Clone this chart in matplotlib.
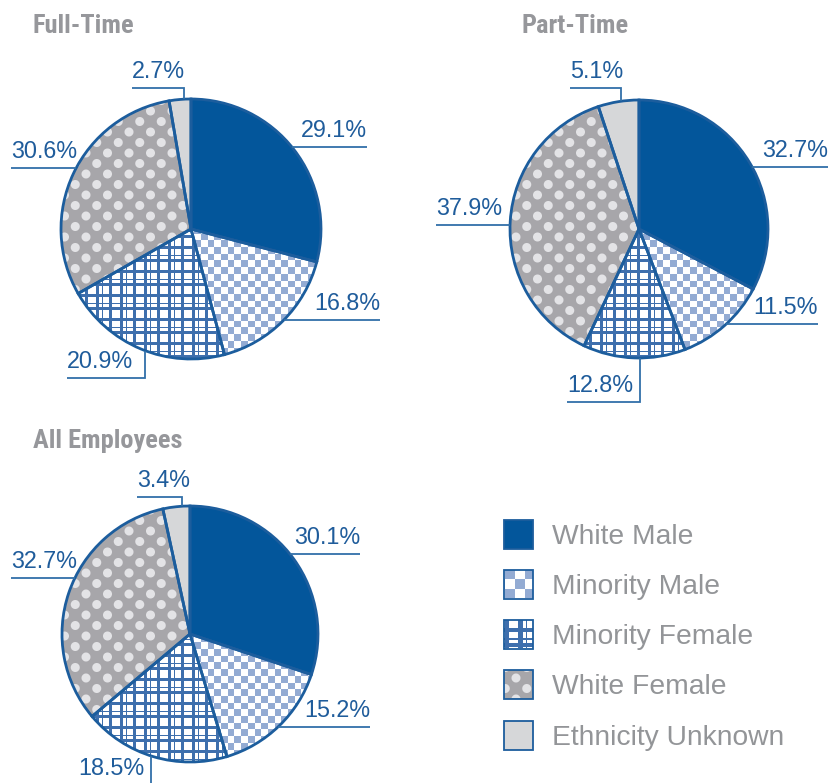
import numpy as np
import matplotlib
matplotlib.use('Agg')
import matplotlib.pyplot as plt
from matplotlib.colors import to_rgb
from matplotlib.patches import Rectangle

W, H = 829, 783

categories = ['White Male', 'Minority Male', 'Minority Female', 'White Female', 'Ethnicity Unknown']
full_time = [29.1, 16.8, 20.9, 30.6, 2.7]
part_time = [32.7, 11.5, 12.8, 37.9, 5.1]
all_employees = [30.1, 15.2, 18.5, 32.7, 3.4]
titles = ['Full-Time', 'Part-Time', 'All Employees']

DARK = '#03569B'
EDGE = '#1C5D9D'
CHECK = '#93ABD3'
PLAID = '#3E6FAD'
GRAYF = '#A7A6AA'
DOT = '#E3E3E6'
UNK = '#D6D7D9'
LABEL = '#1F5C9B'
LINE = '#3270A9'
TITLE = '#96979B'
LEG = '#939598'

kinds = ['solid', 'check', 'plaid', 'dots', 'solid']
base_colors = [DARK, 'white', 'white', GRAYF, UNK]
legend_scale = {'check': 1.45, 'plaid': 1.2, 'dots': 1.0}


def texture(kind, x0, y0, w, h, s=1.0):
    xs = x0 + np.arange(w) + 0.5
    ys = y0 + np.arange(h) + 0.5
    X, Y = np.meshgrid(xs, ys)
    img = np.ones((h, w, 4))
    if kind == 'check':
        c = 6.7 * s
        m = ((np.floor(X / c) + np.floor(Y / c)) % 2).astype(bool)
        img[m, :3] = to_rgb(CHECK)
    elif kind == 'plaid':
        P = 24 * s
        lines = [(0, 3.5), (6, 1.5), (13, 3)]

        def cov(t):
            u = np.mod(t, P)
            mk = np.zeros_like(u, dtype=bool)
            for off, wd in lines:
                mk |= (u >= off * s) & (u < (off + wd) * s)
            return mk
        m = cov(X) | cov(Y + 7 * s)
        img[m, :3] = to_rgb(PLAID)
    elif kind == 'dots':
        dx, dy, rad = 21.5 * s, 10.5 * s, 4.5 * s
        j0 = np.round(Y / dy)
        dmin = np.full(X.shape, 1e9)
        for dj in (-1, 0, 1):
            j = j0 + dj
            shift = (np.mod(j, 2)) * dx / 2
            xi = np.round((X - shift) / dx) * dx + shift
            d = np.hypot(X - xi, Y - j * dy)
            dmin = np.minimum(dmin, d)
        a = np.clip(rad + 0.5 - dmin, 0, 1)[..., None]
        img[..., :3] = np.array(to_rgb(GRAYF)) * (1 - a) + np.array(to_rgb(DOT)) * a
    return img


fig = plt.figure(figsize=(W / 100, H / 100), dpi=100)
ax = fig.add_axes([0, 0, 1, 1])


def Y(y):
    return H - y


pies = [
    dict(values=full_time, title=titles[0], cx=191, cy=229, r=130, tx=33, ty=33,
         labels=[('R', 367, 147), ('R', 380, 320), ('V', 67, 378, 145), ('L', 11, 168), ('V', 132, 88, 184)]),
    dict(values=part_time, title=titles[1], cx=639, cy=229, r=129, tx=522, ty=33,
         labels=[('R', 828, 167), ('R', 818, 324), ('V', 567, 402, 640), ('L', 436, 225), ('V', 570, 88, 621)]),
    dict(values=all_employees, title=titles[2], cx=190, cy=634, r=128, tx=33, ty=448,
         labels=[('R', 360, 554), ('R', 370, 727), ('V', 78, 785, 151), ('L', 11, 578), ('V', 137, 497, 182)]),
]

pct_font = dict(family=['Liberation Sans', 'DejaVu Sans'], size=16.8, color=LABEL)
title_font = dict(family=['Roboto Condensed', 'Roboto', 'DejaVu Sans'],
                  size=19, weight='bold', color=TITLE)

for p in pies:
    cx, cy, r = p['cx'], Y(p['cy']), p['r']
    wedges, _ = ax.pie(p['values'], colors=base_colors, startangle=90, counterclock=False,
                       center=(cx, cy), radius=r, frame=True,
                       wedgeprops=dict(linewidth=0))
    for wdg, k in zip(wedges, kinds):
        if k == 'solid':
            continue
        x0, y0 = int(cx - r - 3), int(cy - r - 3)
        n = int(2 * r + 6)
        img = texture(k, x0, y0, n, n)
        im = ax.imshow(img, extent=(x0, x0 + n, y0, y0 + n), origin='lower',
                       interpolation='nearest', zorder=2)
        im.set_clip_path(wdg)
    ax.pie(p['values'], startangle=90, counterclock=False, center=(cx, cy), radius=r, frame=True,
           wedgeprops=dict(facecolor='none', edgecolor=EDGE, linewidth=2.0, zorder=3))
    # labels
    for v, spec in zip(p['values'], p['labels']):
        txt = f'{v}%'
        kind = spec[0]
        if kind == 'R':
            xe, ly = spec[1], spec[2]
            xs = cx + np.sqrt(r ** 2 - (Y(ly) - cy) ** 2)
            ax.plot([xs, xe], [Y(ly), Y(ly)], color=LINE, lw=1.3, zorder=4, solid_capstyle='butt')
            ax.text(xe, Y(ly - 10), txt, ha='right', va='baseline', **pct_font)
        elif kind == 'L':
            x0l, ly = spec[1], spec[2]
            xs = cx - np.sqrt(r ** 2 - (Y(ly) - cy) ** 2)
            ax.plot([x0l, xs], [Y(ly), Y(ly)], color=LINE, lw=1.3, zorder=4, solid_capstyle='butt')
            ax.text(x0l, Y(ly - 10), txt, ha='left', va='baseline', **pct_font)
        else:
            x0l, ly, xv = spec[1], spec[2], spec[3]
            dyv = np.sqrt(r ** 2 - (xv - cx) ** 2)
            ye = cy + dyv if Y(ly) > cy else cy - dyv
            ax.plot([x0l, xv, xv], [Y(ly), Y(ly), ye], color=LINE, lw=1.3, zorder=4,
                    solid_capstyle='butt', solid_joinstyle='miter')
            ax.text(x0l, Y(ly - 10), txt, ha='left', va='baseline', **pct_font)
    ax.text(p['tx'], Y(p['ty']), p['title'], ha='left', va='baseline', **title_font)

# legend
leg_x, leg_size = 504, 29
leg_rows = [534, 584, 634, 684, 735]
for cat, k, bc, yc in zip(categories, kinds, base_colors, leg_rows):
    x0 = leg_x
    y0 = Y(yc) - leg_size / 2
    rect = Rectangle((x0, y0), leg_size, leg_size, facecolor=bc, edgecolor='none', zorder=1)
    ax.add_patch(rect)
    if k != 'solid':
        img = texture(k, int(x0), int(y0), leg_size + 1, leg_size + 1, s=legend_scale[k])
        im = ax.imshow(img, extent=(int(x0), int(x0) + leg_size + 1, int(y0), int(y0) + leg_size + 1),
                       origin='lower', interpolation='nearest', zorder=2)
        im.set_clip_path(rect)
    ax.add_patch(Rectangle((x0, y0), leg_size, leg_size, facecolor='none', edgecolor=EDGE,
                           linewidth=1.3, zorder=3))
    ax.text(552, Y(yc) - 10, cat, ha='left', va='baseline',
            family=['Liberation Sans', 'DejaVu Sans'], size=20.3, color=LEG)

ax.set_xlim(0, W)
ax.set_ylim(0, H)
ax.set_aspect('auto')
ax.axis('off')
fig.savefig('out.png', dpi=100)
